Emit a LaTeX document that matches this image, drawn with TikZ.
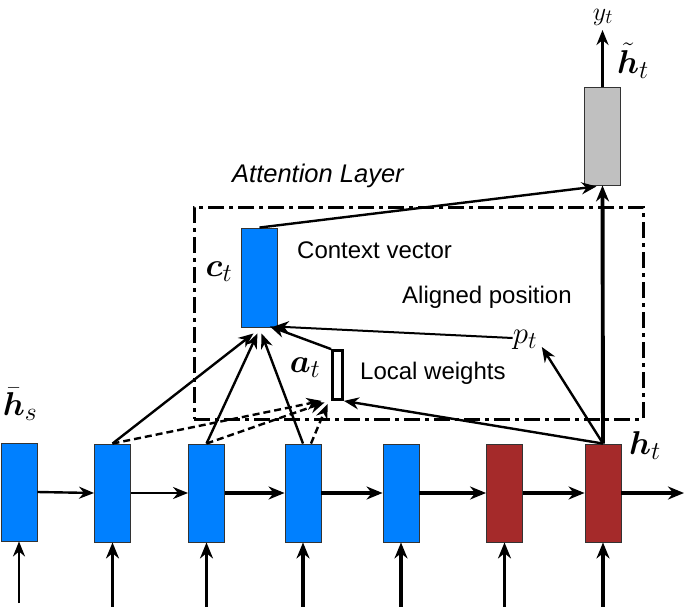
\RequirePackage{fix-cm}
\documentclass[tikz,border=0pt]{standalone}
\usepackage{amsmath}
\usepackage{fontspec}
\newfontfamily\labfont{Liberation Sans}
\usetikzlibrary{arrows.meta,calc}
\definecolor{encblue}{RGB}{0,128,255}
\definecolor{decred}{RGB}{165,42,42}
\definecolor{outgray}{RGB}{192,192,192}
\renewcommand\defaultscriptratio{.78}
\begin{document}
\begin{tikzpicture}[x=1pt,y=-1pt,
  cell/.style={draw=black!80, line width=0.9pt, minimum width=36pt, minimum height=98pt, inner sep=0pt},
  bluecell/.style={cell, fill=encblue},
  redcell/.style={cell, fill=decred},
  arr/.style={-{Stealth[length=15pt,width=12pt]}, line width=2.4pt},
  thickarr/.style={-{Stealth[length=16pt,width=13pt]}, line width=3.9pt},
  dasharr/.style={arr, dash pattern=on 7pt off 4pt},
  txt/.style={font=\labfont\fontsize{24}{28}\selectfont, inner sep=0pt, anchor=west},
  mlab/.style={font=\fontsize{33}{40}\selectfont, inner sep=0pt},
  attbox/.style={draw, line width=3pt, dash pattern=on 16pt off 5pt on 4pt off 5pt, minimum width=449pt, minimum height=212pt, inner sep=0pt},
]
\useasboundingbox (0,0) rectangle (685,607);

% attention layer frame
\node[attbox] (attn) at (418.5,313) {};
\node[font=\labfont\itshape\fontsize{25.5}{30}\selectfont, inner sep=0pt, anchor=west] (attlab) at (232,176) {Attention Layer};

% encoder / decoder cells
\node[bluecell] (b0) at (19,492) {};
\node[bluecell] (b1) at (112.5,493) {};
\node[bluecell] (b2) at (206.5,493) {};
\node[bluecell] (b3) at (303,493) {};
\node[bluecell] (b4) at (401,493) {};
\node[redcell]  (b5) at (504.5,493) {};
\node[redcell]  (b6) at (603,493) {};

% context vector, output, local weights box
\node[bluecell, minimum height=99pt] (ct) at (259.5,277.5) {};
\node[cell, fill=outgray] (g) at (602.5,136) {};
\node[draw, line width=2.8pt, fill=white, minimum width=10pt, minimum height=49pt, inner sep=0pt] (at) at (337.5,375) {};

% labels
\node[txt] (cvlab) at (297,250) {Context vector};
\node[txt] (aplab) at (402,297) {Aligned position};
\node[txt] (lwlab) at (360,373) {Local weights};
\node[mlab] (hs) at (20,404) {$\bar{\boldsymbol{h}}_s$};
\node[mlab] (htlab) at (645,446) {$\boldsymbol{h}_t$};
\node[mlab] (ctlab) at (219,272) {$\boldsymbol{c}_t$};
\node[mlab] (atlab) at (305,368) {$\boldsymbol{a}_t$};
\node[mlab] (httl) at (633,61) {$\tilde{\boldsymbol{h}}_t$};
\node[font=\fontsize{26}{32}\selectfont, inner sep=0pt] (yt) at (603,17) {$y_t$};
\node[font=\fontsize{31}{38}\selectfont, inner sep=0pt] (pt) at (525,340) {$p_t$};

% coordinates for free ends
\coordinate (ytip) at (602.5,30);
\coordinate (outend) at (684,493);
\coordinate (in0) at (19,603);
\coordinate (in1) at (112.5,607);
\coordinate (in2) at (206.5,607);
\coordinate (in3) at (303,607);
\coordinate (in4) at (401,607);
\coordinate (in5) at (504.5,607);
\coordinate (in6) at (603,607);

% recurrent connections
\draw[arr] (b0.east) -- (b1.west);
\draw[arr] (b1.east) -- (b2.west);
\draw[thickarr] (b2.east) -- (b3.west);
\draw[thickarr] (b3.east) -- (b4.west);
\draw[thickarr] (b4.east) -- (b5.west);
\draw[thickarr] (b5.east) -- (b6.west);
\draw[thickarr] (b6.east) -- (outend);

% inputs
\draw[arr] (in0) -- (b0.south);
\draw[thickarr] (in1) -- (b1.south);
\draw[thickarr] (in2) -- (b2.south);
\draw[thickarr] (in3) -- (b3.south);
\draw[thickarr] (in4) -- (b4.south);
\draw[thickarr] (in5) -- (b5.south);
\draw[thickarr] (in6) -- (b6.south);

% output path
\draw[thickarr] (b6.north) -- (g.south);
\draw[arr, line width=3pt] (g.north) -- (ytip);
\draw[arr] (ct.north) -- ([xshift=-6pt,yshift=-1pt]g.south);

% into context vector
\draw[arr] (b1.north) -- ([xshift=-6pt,yshift=-6pt]ct.south);
\draw[arr] (b2.north) -- ([xshift=-2pt,yshift=-6pt]ct.south);
\draw[arr] (b3.north) -- ([xshift=2pt,yshift=-6pt]ct.south);
\draw[arr] (at.north west) -- ([xshift=-8pt,yshift=1pt]ct.south east);
\draw[arr, line width=2pt] ([yshift=2pt]pt.west) -- ([xshift=-4pt,yshift=1pt]ct.south east);

% local weights
\draw[dasharr] (b1.north) -- ([xshift=-9.5pt]at.south west);
\draw[dasharr] (b2.north) -- ([xshift=-6.5pt,yshift=-1.5pt]at.south west);
\draw[dasharr] ([xshift=8pt]b3.north) -- ([xshift=-3.5pt,yshift=-3pt]at.south west);

% from h_t
\draw[arr] (b6.north) -- (at.south east);
\draw[arr] (b6.north) -- ([xshift=4.5pt,yshift=-7pt]pt.east);
\end{tikzpicture}
\end{document}
